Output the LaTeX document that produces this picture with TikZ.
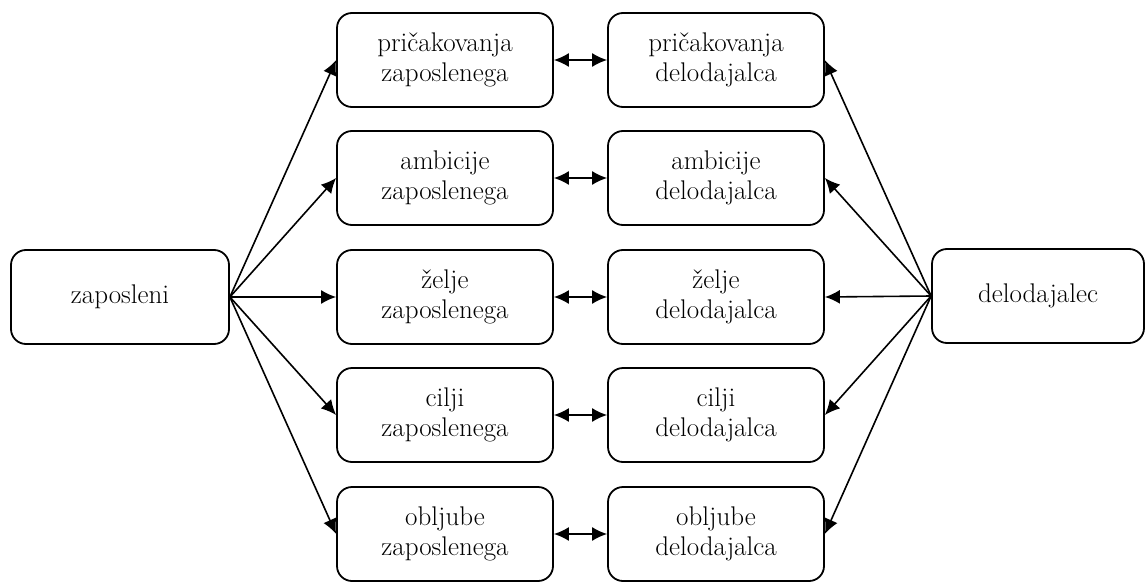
\documentclass[tikz,border=0pt]{standalone}
\usetikzlibrary{arrows.meta}
\begin{document}
\begin{tikzpicture}[x=1pt,y=-1pt,
  box/.style={draw, line width=1.8pt, rounded corners=15pt, minimum width=216pt, minimum height=94pt, align=center, font=\fontsize{27}{30}\selectfont, inner sep=0pt},
  conn/.style={line width=1.6pt, -{Latex[length=15pt,width=14pt]}},
  dconn/.style={line width=1.6pt, {Latex[length=15pt,width=14pt]}-{Latex[length=15pt,width=14pt]}}]
\useasboundingbox (0,0) rectangle (1145,583);
\node[box, minimum width=218pt] (zap) at (120,297) {zaposleni};
\node[box, minimum width=212pt] (del) at (1038,296) {delodajalec};
\node[box] (l1) at (445,60) {pričakovanja\\zaposlenega};
\node[box] (l2) at (445,178) {ambicije\\zaposlenega};
\node[box] (l3) at (445,297) {želje\\zaposlenega};
\node[box] (l4) at (445,415) {cilji\\zaposlenega};
\node[box] (l5) at (445,534) {obljube\\zaposlenega};
\node[box] (r1) at (716,60) {pričakovanja\\delodajalca};
\node[box] (r2) at (716,178) {ambicije\\delodajalca};
\node[box] (r3) at (716,297) {želje\\delodajalca};
\node[box] (r4) at (716,415) {cilji\\delodajalca};
\node[box] (r5) at (716,534) {obljube\\delodajalca};
\foreach \i in {1,...,5}{
  \draw[conn] (zap.east) -- (l\i.west);
  \draw[conn] (del.west) -- (r\i.east);
  \draw[dconn] (l\i.east) -- (r\i.west);
}
\end{tikzpicture}
\end{document}
